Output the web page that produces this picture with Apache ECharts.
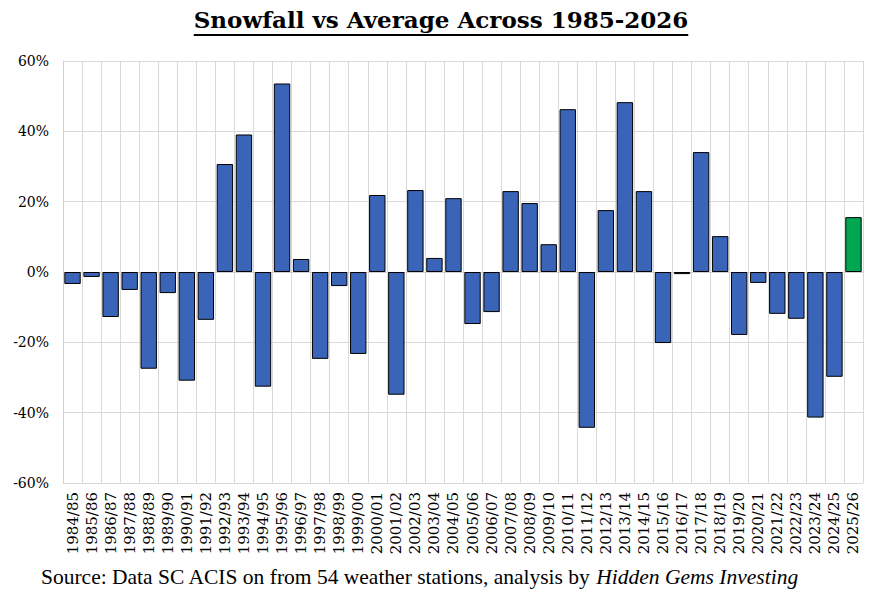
<!DOCTYPE html>
<html><head><meta charset="utf-8">
<script src="https://cdn.jsdelivr.net/npm/echarts@6/dist/echarts.min.js"></script>
<style>html,body{margin:0;padding:0;background:#fff}#c{width:871px;height:597px}</style>
</head><body><div id="c"></div>
<script>
const seasons = ["1984/85","1985/86","1986/87","1987/88","1988/89","1989/90","1990/91","1991/92","1992/93","1993/94","1994/95","1995/96","1996/97","1997/98","1998/99","1999/00","2000/01","2001/02","2002/03","2003/04","2004/05","2005/06","2006/07","2007/08","2008/09","2009/10","2010/11","2011/12","2012/13","2013/14","2014/15","2015/16","2016/17","2017/18","2018/19","2019/20","2020/21","2021/22","2022/23","2023/24","2024/25","2025/26"];
const pctVsAverage = [-3.4,-1.4,-12.8,-5.1,-27.5,-6.0,-30.9,-13.6,30.7,39.1,-32.6,53.6,3.7,-24.7,-4.0,-23.3,21.9,-34.9,23.3,4.0,21.0,-14.8,-11.4,23.0,19.6,7.9,46.3,-44.3,17.6,48.3,23.0,-20.2,-0.6,34.1,10.2,-17.9,-3.1,-11.9,-13.3,-41.4,-29.8,15.6];
const yTicks = [-60,-40,-20,0,20,40,60];
const currentSeason = "2025/26";
const titleText = 'Snowfall vs Average Across 1985-2026';

const serif = "'DejaVu Serif', 'Liberation Serif', serif";
const titleSize = 23;
const chart = echarts.init(document.getElementById('c'), null, {renderer:'svg'});
const tw = echarts.format.getTextRect ? echarts.format.getTextRect(titleText, "bold "+titleSize+"px 'DejaVu Serif'").width :
  (function(){const c=document.createElement('canvas').getContext('2d');c.font="bold "+titleSize+"px 'DejaVu Serif'";return c.measureText(titleText).width;})();
const cx = 441;
chart.setOption({
  animation:false,
  grid:{left:63, right:8, top:61, bottom:114},
  xAxis:{type:'category', data:seasons, boundaryGap:true,
    axisLine:{lineStyle:{color:'#d0d0d0'}}, axisTick:{show:false},
    splitLine:{show:true, lineStyle:{color:'#d9d9d9'}},
    axisLabel:{rotate:90, interval:0, fontFamily:serif, fontSize:15, color:'#000', margin:9}},
  yAxis:{type:'value', min:yTicks[0], max:yTicks[yTicks.length-1], interval:20,
    axisLine:{show:true, lineStyle:{color:'#d0d0d0'}}, axisTick:{show:false},
    splitLine:{lineStyle:{color:'#d9d9d9'}},
    axisLabel:{formatter:'{value}%', fontFamily:serif, fontSize:14, color:'#000', margin:14}},
  series:[{type:'bar', barCategoryGap:'14%',
    data:pctVsAverage.map((v,i)=>({value:v, itemStyle:{color: seasons[i]===currentSeason?'#00a650':'#3a64b8'}})),
    itemStyle:{borderColor:'#000', borderWidth:1}}],
  graphic:[
    {type:'text', x:cx, y:8, style:{text:titleText, textAlign:'center', textVerticalAlign:'top',
      font:"bold "+titleSize+"px 'DejaVu Serif'", fill:'#000'}},
    {type:'line', shape:{x1:cx-tw/2, y1:35, x2:cx+tw/2, y2:35}, style:{stroke:'#000', lineWidth:2}},
    {type:'text', left:41, top:566, style:{
      text:'{n|Source: Data SC ACIS on from 54 weather stations, analysis by }{i|Hidden Gems Investing}',
      rich:{n:{fontFamily:"'Liberation Serif', serif", fontSize:21.5, fill:'#000'},
            i:{fontFamily:"'Liberation Serif', serif", fontSize:21.5, fontStyle:'italic', fill:'#000'}}}}
  ]
});
</script></body></html>
